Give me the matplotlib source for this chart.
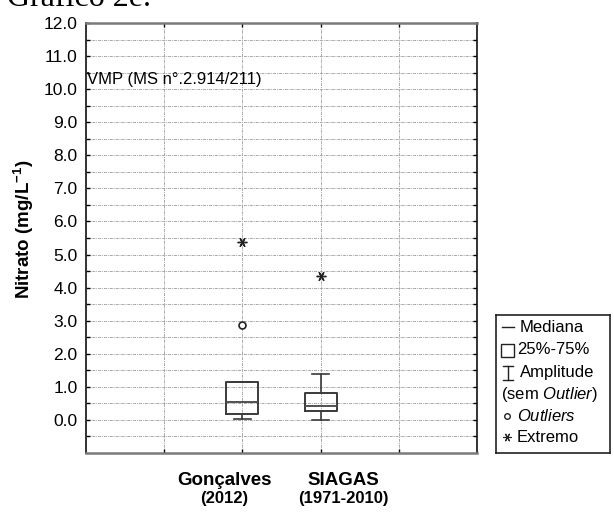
import matplotlib
matplotlib.use("Agg")
import matplotlib.pyplot as plt
from matplotlib.patches import Rectangle

plt.rcParams['font.family'] = ['Liberation Sans', 'DejaVu Sans']
plt.rcParams['mathtext.fontset'] = 'custom'
plt.rcParams['mathtext.rm'] = 'Liberation Sans'
plt.rcParams['mathtext.it'] = 'Liberation Sans:italic'
plt.rcParams['mathtext.bf'] = 'Liberation Sans:bold'

# data
categories = ['Gonçalves', 'SIAGAS']
periods = ['(2012)', '(1971-2010)']
positions = [2, 3]
q1 = [0.17, 0.27]
median = [0.55, 0.43]
q3 = [1.16, 0.81]
whisker_low = [0.02, 0.0]
whisker_high = [1.16, 1.38]
outliers = [[2.87], []]
extremes = [[5.38], [4.35]]
vmp_label = 'VMP (MS n°.2.914/211)'
vmp_value = 10.0
y_ticks = list(range(0, 13))

fig = plt.figure(figsize=(6.14, 5.13), dpi=100)
ax = fig.add_axes([86 / 614, 60 / 513, 391 / 614, 430 / 513])

stats = []
for i in range(len(categories)):
    stats.append(dict(med=median[i], q1=q1[i], q3=q3[i],
                      whislo=whisker_low[i], whishi=whisker_high[i],
                      fliers=[], label=categories[i]))

box_col = '#3a3a3a'
ax.bxp(stats, positions=positions, widths=0.41, showfliers=False,
       boxprops=dict(color=box_col, lw=1.4),
       medianprops=dict(color='#505050', lw=1.4),
       whiskerprops=dict(color=box_col, lw=1.2),
       capprops=dict(color=box_col, lw=1.2),
       capwidths=0.22, zorder=3)

for p, vals in zip(positions, outliers):
    if vals:
        ax.plot([p] * len(vals), vals, 'o', mfc='white', mec='#222222',
                ms=5, mew=1.2, zorder=4)
for p, vals in zip(positions, extremes):
    if vals:
        ax.plot([p] * len(vals), vals, marker=(6, 2, 90), ls='none',
                color='#222222', ms=7, mew=1.0, zorder=4)

ax.set_xlim(0, 5)
ax.set_ylim(-1, 12)
ax.set_xticks([1, 2, 3, 4])
ax.set_xticklabels([])
ax.set_yticks(y_ticks)
ax.set_yticklabels(['%.1f' % v for v in y_ticks], fontsize=12.5)
ax.set_yticks([v + 0.5 for v in range(-1, 12)], minor=True)
ax.tick_params(which='both', direction='in', length=3, width=1,
               top=True, right=True, color='black', pad=6)
ax.grid(True, which='both', color='#a8a8a8', lw=0.7,
        linestyle=(0, (3, 1, 1, 1)))
ax.set_axisbelow(True)

for side in ['top', 'bottom']:
    ax.spines[side].set_color('#7a7a7a')
    ax.spines[side].set_linewidth(1.8)
for side in ['left', 'right']:
    ax.spines[side].set_color('#222222')
    ax.spines[side].set_linewidth(1.3)

ax.text(0.01, vmp_value + 0.05, vmp_label, fontsize=12, va='bottom', ha='left')

ax.set_ylabel(r'Nitrato (mg/L$^{\mathbf{-1}}$)', fontsize=13.5, fontweight='bold')
ax.yaxis.set_label_coords(-0.128, 0.52)

label_x = [1.77, 3.29]
for x, name, per in zip(label_x, categories, periods):
    ax.text(x, -0.063, name, transform=ax.get_xaxis_transform(),
            ha='center', va='center', fontsize=13.5, fontweight='bold')
    ax.text(x, -0.105, per, transform=ax.get_xaxis_transform(),
            ha='center', va='center', fontsize=12, fontweight='bold')

# title, partly cut by the top edge
fig.text(7 / 614, 1 - 6 / 513, 'Gráfico 2e.', family='Liberation Serif',
         fontsize=23, ha='left', va='baseline')

# legend box, drawn in pixel units
lg = fig.add_axes([496 / 614, 60 / 513, 114 / 614, 138 / 513])
lg.set_xlim(0, 114)
lg.set_ylim(138, 0)
lg.set_xticks([])
lg.set_yticks([])
for s in lg.spines.values():
    s.set_color('#222222')
    s.set_linewidth(1.2)

fs = 12
rows = [12, 35, 58, 80, 101, 122]
lg.plot([6, 18], [rows[0], rows[0]], color='#222222', lw=1)
lg.text(24, rows[0], 'Mediana', fontsize=fs, va='center')
lg.add_patch(Rectangle((5, rows[1] - 6), 13, 13, fill=False, ec='#222222', lw=1))
lg.text(21, rows[1], '25%-75%', fontsize=fs, va='center')
lg.plot([12, 12], [rows[2] - 7, rows[2] + 7], color='#222222', lw=1)
lg.plot([7, 17], [rows[2] - 7, rows[2] - 7], color='#222222', lw=1)
lg.plot([7, 17], [rows[2] + 7, rows[2] + 7], color='#222222', lw=1)
lg.text(24, rows[2], 'Amplitude', fontsize=fs, va='center')
lg.text(5, rows[3], r'(sem $\mathit{Outlier}$)', fontsize=fs, va='center')
lg.plot([11], [rows[4]], 'o', mfc='white', mec='#222222', ms=4, mew=1)
lg.text(21, rows[4], r'$\mathit{Outliers}$', fontsize=fs, va='center')
lg.plot([11], [rows[5]], marker=(6, 2, 90), ls='none', color='#222222',
        ms=6, mew=0.8)
lg.text(21, rows[5], 'Extremo', fontsize=fs, va='center')

fig.savefig('out.png', dpi=100)
